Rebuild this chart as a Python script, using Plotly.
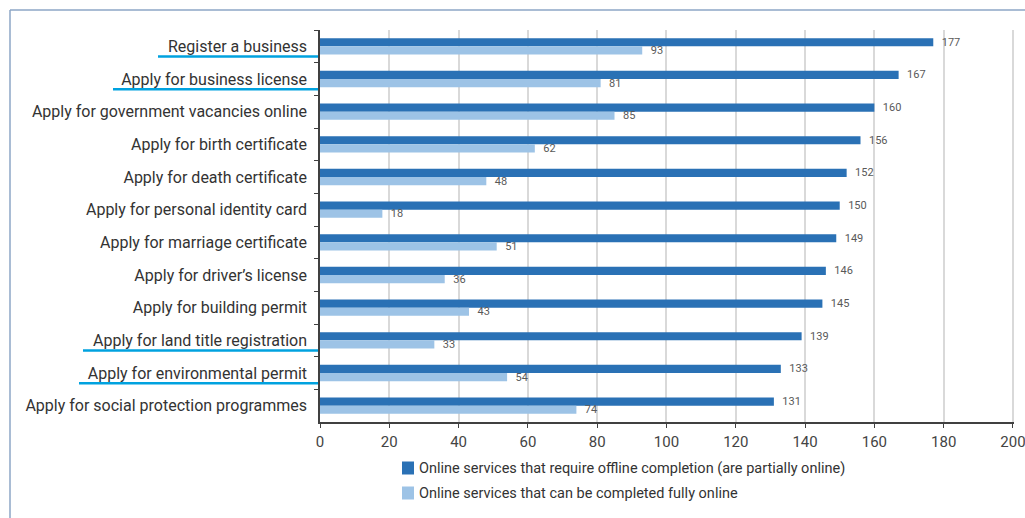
import plotly.graph_objects as go

# Online service availability by service type
services = [
    "Register a business",
    "Apply for business license",
    "Apply for government vacancies online",
    "Apply for birth certificate",
    "Apply for death certificate",
    "Apply for personal identity card",
    "Apply for marriage certificate",
    "Apply for driver\u2019s license",
    "Apply for building permit",
    "Apply for land title registration",
    "Apply for environmental permit",
    "Apply for social protection programmes",
]
partially_online = [177, 167, 160, 156, 152, 150, 149, 146, 145, 139, 133, 131]
fully_online = [93, 81, 85, 62, 48, 18, 51, 36, 43, 33, 54, 74]
x_ticks = [0, 20, 40, 60, 80, 100, 120, 140, 160, 180, 200]

series_names = [
    "Online services that require offline completion (are partially online)",
    "Online services that can be completed fully online",
]
highlighted = [
    "Register a business",
    "Apply for business license",
    "Apply for land title registration",
    "Apply for environmental permit",
]

DARK = "#2a71b5"
LIGHT = "#9dc3e6"
FONT = "Roboto"

W, H = 1025, 518
L, R, T, B = 320, 11, 30, 96
plot_w = W - L - R
plot_h = H - T - B


def px_x(p):
    return (p - L) / plot_w


def px_y(p):
    return (H - B - p) / plot_h


fig = go.Figure()
for vals, name, color in [(partially_online, series_names[0], DARK),
                          (fully_online, series_names[1], LIGHT)]:
    fig.add_trace(go.Bar(
        y=services, x=vals, orientation="h", name=name,
        marker=dict(color=color, line=dict(width=0)),
        text=vals, texttemplate="  %{text}", textposition="outside",
        constraintext="none",
        textfont=dict(size=11, color="#595959", family=FONT),
        cliponaxis=False, showlegend=False,
    ))

shapes = []
annotations = []
# Underlines beneath highlighted service names (label left edge in pixels)
underline_left = {
    "Register a business": 158,
    "Apply for business license": 113,
    "Apply for land title registration": 83,
    "Apply for environmental permit": 79,
}
for name in highlighted:
    idx = services.index(name)
    shapes.append(dict(
        type="line", xref="paper", yref="y",
        x0=px_x(underline_left[name]), x1=px_x(318),
        y0=idx + 0.31, y1=idx + 0.31,
        line=dict(color="#00a2df", width=2.5),
    ))
# Frame around the figure (top and left edges fall inside the page)
frame = dict(color="#8ca6c6", width=1.5)
shapes.append(dict(type="line", xref="paper", yref="paper", layer="below",
                   x0=px_x(10), x1=px_x(W), y0=px_y(10), y1=px_y(10), line=frame))
shapes.append(dict(type="line", xref="paper", yref="paper", layer="below",
                   x0=px_x(10), x1=px_x(10), y0=px_y(10), y1=px_y(H), line=frame))

# Legend key below the axis
legend_rows = [(series_names[0], DARK, 468), (series_names[1], LIGHT, 493)]
for name, color, yc in legend_rows:
    shapes.append(dict(
        type="rect", xref="paper", yref="paper",
        x0=px_x(402), x1=px_x(414), y0=px_y(yc - 6.5), y1=px_y(yc + 6.5),
        line=dict(width=0), fillcolor=color,
    ))
    annotations.append(dict(
        xref="paper", yref="paper", x=px_x(417), y=px_y(yc),
        xanchor="left", yanchor="middle", text=name, showarrow=False,
        font=dict(size=14.5, color="#333333", family=FONT),
    ))

fig.update_layout(
    width=W, height=H,
    margin=dict(l=L, r=R, t=T, b=B, autoexpand=False),
    paper_bgcolor="white", plot_bgcolor="white",
    barmode="group", bargap=0.5, bargroupgap=0,
    font=dict(family=FONT, size=14, color="#333333"),
    showlegend=False,
    shapes=shapes,
    annotations=annotations,
    xaxis=dict(
        range=[0, 200.3], tickvals=x_ticks, ticktext=[str(v) for v in x_ticks],
        showgrid=True, gridcolor="#d9d9d9", gridwidth=1.5,
        showline=True, linecolor="#404040", linewidth=1.5,
        ticks="outside", ticklen=4, tickcolor="#404040",
        ticklabeloverflow="allow", ticklabelstandoff=1, automargin=False,
        tickfont=dict(size=15, color="#444444"), zeroline=False,
    ),
    yaxis=dict(
        categoryorder="array", categoryarray=services, autorange="reversed",
        showline=True, linecolor="#404040", linewidth=1.5,
        ticks="outside", ticklen=4, tickcolor="#404040", tickson="boundaries",
        ticklabelstandoff=8, automargin=False,
        tickfont=dict(size=16, color="#333333"), showgrid=False,
    ),
)

fig.write_html("out.html")
